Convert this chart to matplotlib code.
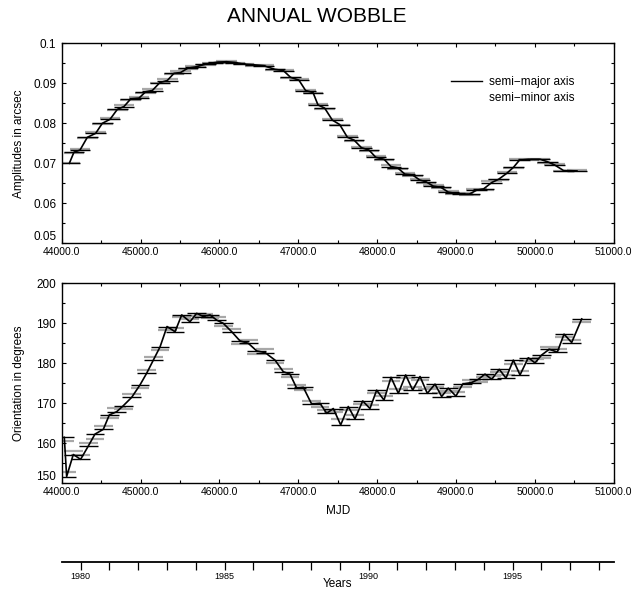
import matplotlib
matplotlib.use("Agg")
import numpy as np
import matplotlib.pyplot as plt
from matplotlib.lines import Line2D
from matplotlib.ticker import MultipleLocator, FuncFormatter

plt.rcParams['font.family'] = ['Liberation Sans', 'DejaVu Sans']

# amplitude panel: epoch (MJD), semi-major and semi-minor axis (arcsec)
amp_mjd = [44097, 44156, 44232, 44325, 44431, 44515, 44613, 44706, 44790, 44875,
           44980, 45065, 45149, 45246, 45339, 45424, 45508, 45600, 45698, 45825,
           45910, 45986, 46091, 46200, 46303, 46450, 46560, 46704, 46810, 46902,
           47008, 47093, 47187, 47250, 47335, 47432, 47525, 47623, 47708, 47801,
           47898, 47983, 48089, 48174, 48258, 48352, 48449, 48542, 48619, 48712,
           48809, 48902, 48987, 49085, 49169, 49263, 49350, 49453, 49540, 49644,
           49729, 49805, 49919, 50068, 50160, 50250, 50364, 50534]
amp_major = [0.0700, 0.0728, 0.0733, 0.0765, 0.0775, 0.0800, 0.0810, 0.0835, 0.0842, 0.0861,
             0.0863, 0.0879, 0.0882, 0.0902, 0.0907, 0.0925, 0.0927, 0.0938, 0.0941, 0.0948,
             0.0951, 0.0953, 0.0954, 0.0952, 0.0948, 0.0946, 0.0944, 0.0935, 0.0932, 0.0915,
             0.0908, 0.0882, 0.0877, 0.0846, 0.0838, 0.0808, 0.0797, 0.0765, 0.0758, 0.0739,
             0.0733, 0.0715, 0.0710, 0.0692, 0.0689, 0.0673, 0.0671, 0.0658, 0.0654, 0.0643,
             0.0640, 0.0628, 0.0625, 0.0623, 0.0623, 0.0633, 0.0636, 0.0652, 0.0660, 0.0675,
             0.0690, 0.0708, 0.0710, 0.0710, 0.0704, 0.0696, 0.0682, 0.0681]
amp_minor = [0.0702, 0.0726, 0.0735, 0.0763, 0.0778, 0.0798, 0.0813, 0.0833, 0.0845, 0.0859,
             0.0866, 0.0877, 0.0885, 0.0900, 0.0910, 0.0923, 0.0930, 0.0936, 0.0943, 0.0946,
             0.0952, 0.0951, 0.0955, 0.0950, 0.0949, 0.0944, 0.0945, 0.0933, 0.0934, 0.0913,
             0.0910, 0.0884, 0.0875, 0.0849, 0.0836, 0.0811, 0.0795, 0.0768, 0.0756, 0.0742,
             0.0731, 0.0718, 0.0708, 0.0695, 0.0687, 0.0676, 0.0669, 0.0661, 0.0652, 0.0646,
             0.0638, 0.0631, 0.0623, 0.0626, 0.0621, 0.0636, 0.0634, 0.0655, 0.0658, 0.0678,
             0.0688, 0.0711, 0.0708, 0.0712, 0.0702, 0.0698, 0.0680, 0.0683]

# orientation panel: epoch (MJD), orientation (deg) and second estimate
ori_mjd = [44033, 44063, 44147, 44240, 44337, 44422, 44528, 44604, 44697, 44781,
           44888, 44993, 45077, 45162, 45247, 45336, 45437, 45522, 45627, 45712,
           45796, 45881, 45966, 46049, 46156, 46261, 46367, 46473, 46578, 46705,
           46810, 46895, 46980, 47064, 47170, 47276, 47360, 47444, 47538, 47634,
           47719, 47817, 47909, 47994, 48087, 48176, 48269, 48362, 48451, 48544,
           48636, 48734, 48818, 48902, 48999, 49085, 49199, 49283, 49368, 49453,
           49549, 49634, 49727, 49812, 49917, 50002, 50087, 50183, 50285, 50370,
           50467, 50594]
ori_deg = [161.5, 151.7, 157.2, 156.0, 159.3, 162.3, 163.5, 167.1, 167.9, 169.4,
           171.5, 174.6, 177.5, 180.8, 184.1, 189.2, 187.9, 192.1, 190.4, 192.5,
           191.7, 192.1, 190.8, 190.0, 187.9, 185.6, 185.0, 183.1, 182.7, 180.8,
           177.9, 177.3, 173.8, 174.0, 169.8, 170.0, 167.5, 168.7, 164.6, 169.2,
           166.1, 170.6, 168.7, 173.3, 170.8, 176.5, 172.5, 177.1, 173.3, 176.7,
           172.5, 174.8, 171.7, 173.8, 171.8, 174.8, 175.2, 176.0, 177.3, 176.0,
           178.5, 176.3, 180.8, 177.1, 181.4, 180.1, 182.1, 183.5, 182.8, 187.3,
           185.2, 191.1]
ori_alt = [160.5, 152.8, 158.0, 157.2, 160.2, 161.2, 164.3, 166.4, 168.9, 168.5,
           172.3, 173.8, 178.3, 181.5, 183.4, 188.4, 188.8, 191.5, 191.1, 191.8,
           192.4, 191.3, 191.6, 189.3, 188.6, 184.8, 185.9, 182.4, 183.5, 180.2,
           178.6, 176.6, 174.5, 173.3, 170.6, 169.2, 168.3, 167.9, 166.0, 168.4,
           167.2, 169.8, 169.6, 172.6, 171.8, 175.7, 173.6, 176.3, 174.2, 175.9,
           173.6, 174.0, 172.6, 173.0, 172.8, 174.1, 175.8, 175.3, 176.6, 176.9,
           177.8, 177.2, 179.9, 178.2, 180.6, 181.0, 181.4, 184.2, 183.5, 186.5,
           185.9, 190.3]

year_ticks = list(range(1980, 1999))
year_labels = [str(y) if y % 5 == 0 else '' for y in year_ticks]

amp_mjd = np.array(amp_mjd)
ori_mjd = np.array(ori_mjd)
hw = 130  # half width of the horizontal bars, days


def mjd_to_year(m):
    return 1980.0 + (m - 44239.0) / 365.25


def style_axes(ax):
    for s in ax.spines.values():
        s.set_linewidth(1.0)
    ax.set_xlim(44000, 51000)
    ax.xaxis.set_major_locator(MultipleLocator(1000))
    ax.xaxis.set_minor_locator(MultipleLocator(500))
    ax.xaxis.set_major_formatter(FuncFormatter(lambda v, p: '%.1f' % v))
    ax.tick_params(which='both', direction='in', top=True, right=True, width=0.8)
    ax.tick_params(which='major', length=3)
    ax.tick_params(which='minor', length=2.2)
    ax.tick_params(axis='x', labelsize=7.5, pad=2.5)
    ax.tick_params(axis='y', labelsize=8.5, pad=4)
    # the lowest y label sits just above the first x label, as in the original
    ax.get_yticklabels()


fig = plt.figure(figsize=(6.34, 5.91), dpi=100)
ax1 = fig.add_axes([0.0973, 0.5883, 0.8707, 0.3384])
ax2 = fig.add_axes([0.0973, 0.1822, 0.8707, 0.3384])
ax3 = fig.add_axes([0.0973, 0.0491, 0.8707, 0.0001])

# top: amplitudes
ax1.hlines(amp_minor, amp_mjd - hw, amp_mjd + hw, color='#a8a8a8', lw=1.6)
ax1.hlines(amp_major, amp_mjd - hw, amp_mjd + hw, color='black', lw=1.0)
ax1.plot(amp_mjd, amp_major, color='black', lw=1.2)
style_axes(ax1)
ax1.set_ylim(0.05, 0.1)
ax1.yaxis.set_major_locator(MultipleLocator(0.01))
ax1.yaxis.set_minor_locator(MultipleLocator(0.005))
ax1.yaxis.set_major_formatter(FuncFormatter(lambda v, p: '%g' % round(v, 3)))
ax1.set_ylabel('Amplitudes in arcsec', fontsize=8.5)
ax1.yaxis.set_label_coords(-0.066, 0.5)
handles = [Line2D([], [], color='black', lw=1.0), Line2D([], [], color='none')]
ax1.legend(handles, ['semi\u2212major axis', 'semi\u2212minor axis'],
           loc='upper left', bbox_to_anchor=(0.705, 0.835), frameon=False,
           fontsize=8.5, handlelength=2.6, handletextpad=0.6,
           labelspacing=0.35, borderpad=0, borderaxespad=0)

# bottom: orientation
ax2.hlines(ori_alt, ori_mjd - 120, ori_mjd + 120, color='#a8a8a8', lw=1.6)
ax2.hlines(ori_deg, ori_mjd - 120, ori_mjd + 120, color='black', lw=1.0)
ax2.plot(ori_mjd, ori_deg, color='black', lw=1.2)
style_axes(ax2)
ax2.set_ylim(150, 200)
ax2.yaxis.set_major_locator(MultipleLocator(10))
ax2.yaxis.set_minor_locator(MultipleLocator(5))
ax2.set_ylabel('Orientation in degrees', fontsize=8.5)
ax2.yaxis.set_label_coords(-0.066, 0.5)

# lift the bottom y label a little so it clears the first x label
for ax in (ax1, ax2):
    ax.yaxis.get_major_ticks()[1].label1.set_va('bottom')

# years axis
ax3.set_facecolor('none')
for side in ['left', 'right', 'top']:
    ax3.spines[side].set_visible(False)
ax3.spines['bottom'].set_linewidth(1.3)
ax3.set_xlim(mjd_to_year(44000), mjd_to_year(51000))
ax3.set_yticks([])
ax3.set_xticks(year_ticks)
ax3.set_xticklabels(year_labels)
ax3.tick_params(axis='x', direction='out', length=5.5, width=0.9, labelsize=6.5, pad=1.5)

fig.text(0.5, 1 - 17 / 591, 'ANNUAL WOBBLE', ha='center', va='center', fontsize=15)
fig.text(0.5327, 1 - 511 / 591, 'MJD', ha='center', va='center', fontsize=8.5)
fig.text(0.5327, 1 - 584 / 591, 'Years', ha='center', va='center', fontsize=8.5)

fig.savefig('out.png', dpi=100)
